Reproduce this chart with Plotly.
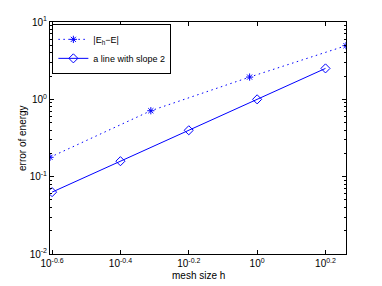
import plotly.graph_objects as go
import numpy as np

# data
h_err = [0.2477, 0.4886, 0.9506, 1.8197]
err_energy = [0.178, 0.712, 1.94, 4.94]

h_ref = [10**-0.6, 10**-0.4, 10**-0.2, 10**0, 10**0.2]
ref_line = [h**2 for h in h_ref]

x_tick_exps = ["-0.6", "-0.4", "-0.2", "0", "0.2"]
y_tick_exps = ["-2", "-1", "0", "1"]

blue = "#0000ff"
fig = go.Figure()
fig.add_trace(go.Scatter(
    x=h_err, y=err_energy, mode="lines+markers",
    name="|E<sub>h</sub>−E|",
    line=dict(color=blue, width=1, dash="1.5px,3.5px"),
    marker=dict(symbol="asterisk-open", size=6, color=blue, line=dict(color=blue, width=1)),
))
fig.add_trace(go.Scatter(
    x=h_ref, y=ref_line, mode="lines+markers",
    name="a line with slope 2",
    line=dict(color=blue, width=1),
    marker=dict(symbol="diamond-open", size=7, color=blue, line=dict(color=blue, width=1)),
))

# page body has an 8px default margin; figure is sized to compensate
font = dict(family="Liberation Sans, Arial, sans-serif", size=10, color="#000")
fig.update_layout(
    width=374, height=278,
    margin=dict(l=42, r=36, t=14, b=32, autoexpand=False),
    paper_bgcolor="white", plot_bgcolor="white",
    font=font,
    showlegend=True,
    legend=dict(x=0.008, y=0.992, xanchor="left", yanchor="top",
                bordercolor="black", borderwidth=1, bgcolor="white",
                font=dict(size=9), tracegroupgap=0, itemwidth=30),
    annotations=[
        dict(text="mesh size h", xref="paper", yref="paper", x=0.5, y=0,
             xanchor="center", yanchor="middle", yshift=-21, showarrow=False,
             font=dict(size=10)),
        dict(text="error of energy", xref="paper", yref="paper", x=0, y=0.5,
             xanchor="center", yanchor="middle", xshift=-28, textangle=-90,
             showarrow=False, font=dict(size=10)),
    ],
)
fig.update_xaxes(
    type="log", range=[np.log10(h_err[0]), np.log10(h_err[-1])],
    tickvals=[10**float(e) for e in x_tick_exps],
    ticktext=["10<sup>%s</sup>" % e for e in x_tick_exps],
    ticks="inside", ticklen=4, tickcolor="black",
    showline=True, linecolor="black", linewidth=1, mirror="allticks",
    showgrid=False, zeroline=False, automargin=False,
    tickfont=dict(size=10),
)
fig.update_yaxes(
    type="log", range=[-2, 1],
    tickvals=[10**float(e) for e in y_tick_exps],
    ticktext=["10<sup>%s</sup>" % e for e in y_tick_exps],
    ticks="inside", ticklen=4, tickcolor="black",
    minor=dict(ticks="inside", ticklen=2, tickcolor="black", showgrid=False,
               tickvals=[m * 10**d for d in range(-2, 1) for m in range(2, 10)]),
    showline=True, linecolor="black", linewidth=1, mirror="allticks",
    showgrid=False, zeroline=False, automargin=False,
    tickfont=dict(size=10),
)
fig.write_html("out.html")
